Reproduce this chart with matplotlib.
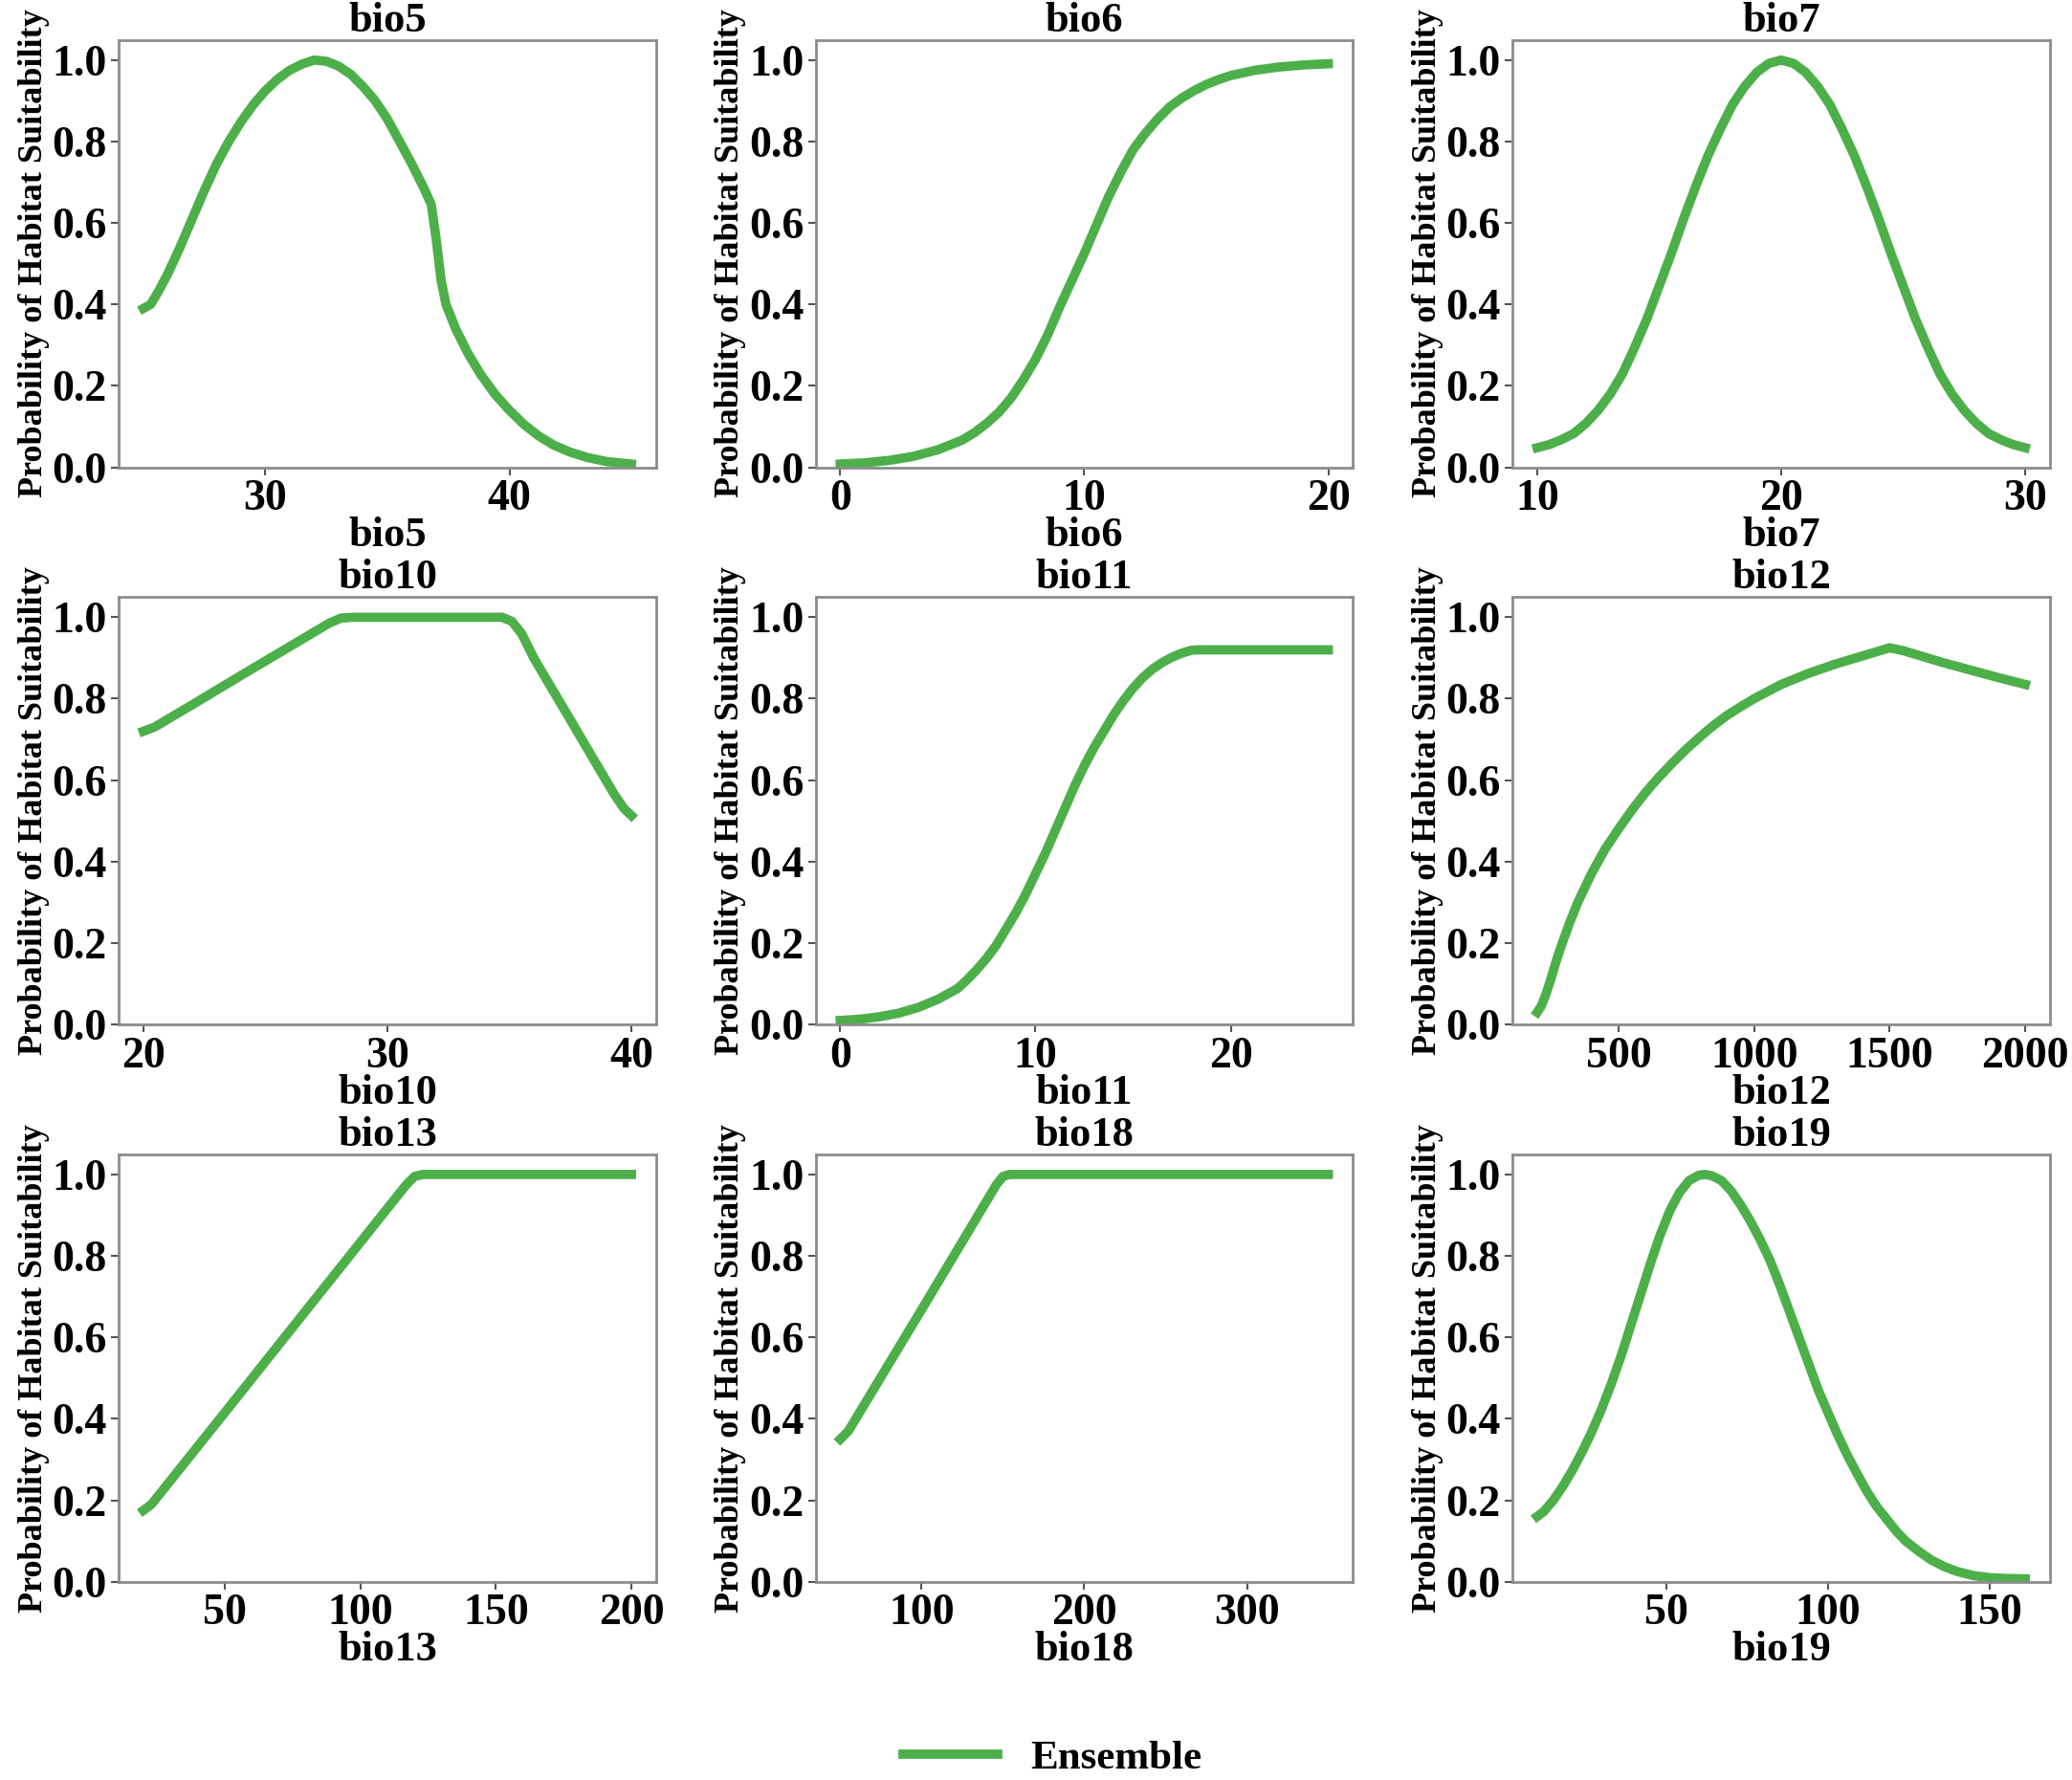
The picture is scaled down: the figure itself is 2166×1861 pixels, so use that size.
import matplotlib
matplotlib.use('Agg')
import matplotlib.pyplot as plt

plt.rcParams['font.family'] = ['Liberation Serif', 'DejaVu Serif']
plt.rcParams['font.weight'] = 'bold'

# variables shown in the 3x3 grid
names = ['bio5', 'bio6', 'bio7', 'bio10', 'bio11', 'bio12', 'bio13', 'bio18', 'bio19']

bio5_x = [25, 25.3, 25.6, 26, 26.5, 27, 27.5, 28, 28.5, 29, 29.5, 30, 30.5, 31, 31.5, 32,
          32.5, 33, 33.5, 34, 34.5, 35, 35.5, 36, 36.5, 36.8, 37.0, 37.2, 37.4, 37.8, 38.3,
          38.8, 39.4, 40, 40.6, 41.2, 41.8, 42.5, 43.2, 44, 45]
bio5_y = [0.39, 0.40, 0.43, 0.475, 0.54, 0.61, 0.68, 0.745, 0.80, 0.848, 0.89, 0.925, 0.953,
          0.975, 0.99, 1.0, 0.997, 0.985, 0.965, 0.935, 0.9, 0.855, 0.80, 0.745, 0.685, 0.645,
          0.56, 0.46, 0.40, 0.34, 0.28, 0.23, 0.18, 0.14, 0.105, 0.077, 0.055, 0.037, 0.024,
          0.014, 0.008]

bio6_x = [0, 1, 2, 3, 4, 5, 5.5, 6, 6.5, 7, 7.5, 8, 8.5, 9, 9.5, 10, 10.5, 11, 11.5, 12,
          12.5, 13, 13.5, 14, 14.5, 15, 15.5, 16, 17, 18, 19, 20]
bio6_y = [0.008, 0.011, 0.017, 0.027, 0.043, 0.067, 0.085, 0.108, 0.135, 0.17, 0.215, 0.265,
          0.325, 0.395, 0.46, 0.525, 0.595, 0.665, 0.725, 0.78, 0.82, 0.855, 0.885, 0.907,
          0.925, 0.94, 0.952, 0.962, 0.975, 0.983, 0.988, 0.991]

bio7_x = [10, 10.5, 11, 11.5, 12, 12.5, 13, 13.5, 14, 14.5, 15, 15.5, 16, 16.5, 17, 17.5,
          18, 18.5, 19, 19.5, 20, 20.5, 21, 21.5, 22, 22.5, 23, 23.5, 24, 24.5, 25, 25.5,
          26, 26.5, 27, 27.5, 28, 28.5, 29, 29.5, 30]
bio7_y = [0.048, 0.056, 0.068, 0.083, 0.108, 0.14, 0.18, 0.23, 0.295, 0.365, 0.445, 0.525,
          0.61, 0.69, 0.765, 0.83, 0.89, 0.935, 0.97, 0.992, 1.0, 0.992, 0.97, 0.935, 0.89,
          0.83, 0.765, 0.69, 0.61, 0.525, 0.445, 0.365, 0.295, 0.23, 0.18, 0.14, 0.108,
          0.083, 0.068, 0.056, 0.048]

bio10_x = [20, 20.45, 22, 24, 26, 27.6, 28.1, 28.6, 32, 34.7, 35.1, 35.5, 36, 36.5, 37.5,
           38.5, 39.3, 39.7, 40]
bio10_y = [0.72, 0.73, 0.785, 0.857, 0.928, 0.985, 0.998, 1.0, 1.0, 1.0, 0.99, 0.96, 0.9,
           0.849, 0.748, 0.646, 0.565, 0.53, 0.513]

bio11_x = [0, 1, 2, 3, 4, 5, 6, 6.5, 7, 7.5, 8, 8.5, 9, 9.5, 10, 10.5, 11, 11.5, 12, 12.5,
           13, 13.5, 14, 14.5, 15, 15.5, 16, 16.5, 17, 17.5, 18, 18.3, 20, 22, 25]
bio11_y = [0.01, 0.013, 0.019, 0.028, 0.042, 0.062, 0.088, 0.11, 0.135, 0.163, 0.195, 0.235,
           0.275, 0.32, 0.37, 0.42, 0.475, 0.53, 0.585, 0.635, 0.68, 0.72, 0.76, 0.795, 0.826,
           0.852, 0.873, 0.889, 0.902, 0.912, 0.919, 0.92, 0.92, 0.92, 0.92]

bio12_x = [200, 215, 230, 250, 270, 290, 320, 350, 400, 450, 500, 550, 600, 650, 700, 750,
           800, 850, 900, 950, 1000, 1100, 1200, 1300, 1400, 1450, 1500, 1550, 1600, 1700,
           1800, 1900, 2000]
bio12_y = [0.03, 0.045, 0.07, 0.11, 0.155, 0.195, 0.25, 0.3, 0.37, 0.43, 0.48, 0.527, 0.57,
           0.608, 0.643, 0.676, 0.706, 0.734, 0.759, 0.78, 0.8, 0.835, 0.862, 0.885, 0.905,
           0.915, 0.925, 0.918, 0.908, 0.888, 0.87, 0.852, 0.835]

bio13_x = [20, 23, 50, 80, 100, 117, 120, 123, 150, 200]
bio13_y = [0.175, 0.19, 0.415, 0.666, 0.833, 0.975, 0.995, 1.0, 1.0, 1.0]

bio18_x = [50, 55, 100, 146, 150, 154, 200, 300, 350]
bio18_y = [0.35, 0.37, 0.668, 0.975, 0.995, 1.0, 1.0, 1.0, 1.0]

bio19_x = [10, 12, 15, 18, 21, 24, 27, 30, 33, 36, 39, 42, 45, 48, 51, 54, 57, 60, 62, 64,
           67, 70, 73, 76, 79, 82, 85, 88, 91, 94, 97, 100, 103, 106, 109, 112, 115, 118,
           121, 124, 128, 132, 136, 140, 145, 150, 155, 161]
bio19_y = [0.16, 0.172, 0.2, 0.235, 0.275, 0.32, 0.37, 0.425, 0.487, 0.555, 0.63, 0.705, 0.78,
           0.85, 0.91, 0.955, 0.985, 0.998, 1.0, 0.997, 0.985, 0.96, 0.925, 0.885, 0.84, 0.79,
           0.73, 0.665, 0.6, 0.535, 0.47, 0.415, 0.36, 0.31, 0.265, 0.222, 0.185, 0.155, 0.125,
           0.1, 0.075, 0.053, 0.037, 0.025, 0.015, 0.01, 0.008, 0.007]

xs = [bio5_x, bio6_x, bio7_x, bio10_x, bio11_x, bio12_x, bio13_x, bio18_x, bio19_x]
ys = [bio5_y, bio6_y, bio7_y, bio10_y, bio11_y, bio12_y, bio13_y, bio18_y, bio19_y]

xticks = [[30, 40], [0, 10, 20], [10, 20, 30], [20, 30, 40], [0, 10, 20],
          [500, 1000, 1500, 2000], [50, 100, 150, 200], [100, 200, 300], [50, 100, 150]]
yticks = [0.0, 0.2, 0.4, 0.6, 0.8, 1.0]

green = '#4daf4a'
fs_tick = 33
fs_lab = 32

fig, axes = plt.subplots(3, 3, figsize=(21.66, 18.61), dpi=100)
fig.subplots_adjust(left=0.0574, right=0.9892, bottom=0.1114, top=0.9777,
                    wspace=0.298, hspace=0.303)

for i, ax in enumerate(axes.flat):
    line, = ax.plot(xs[i], ys[i], color=green, lw=7, label='Ensemble')
    ax.set_title(names[i], fontsize=fs_lab, fontweight='bold', pad=5)
    ax.set_xlabel(names[i], fontsize=fs_lab, fontweight='bold', labelpad=-2)
    ax.set_ylabel('Probability of Habitat Suitability', fontsize=26, fontweight='bold',
                  labelpad=2)
    ax.set_xticks(xticks[i])
    ax.set_yticks(yticks)
    ax.set_ylim(0, 1.05)
    ax.tick_params(labelsize=fs_tick, length=6, width=1.5, color='#555555', pad=3)
    for lab in ax.get_xticklabels() + ax.get_yticklabels():
        lab.set_fontweight('bold')
    for sp in ax.spines.values():
        sp.set_color('#8c8c8c')
        sp.set_linewidth(2)

fig.legend([line], ['Ensemble'], loc='center', bbox_to_anchor=(0.508, 0.012),
           frameon=False, handlelength=2.3, prop={'weight': 'bold', 'size': 31})

fig.savefig('out.png', dpi=100)
